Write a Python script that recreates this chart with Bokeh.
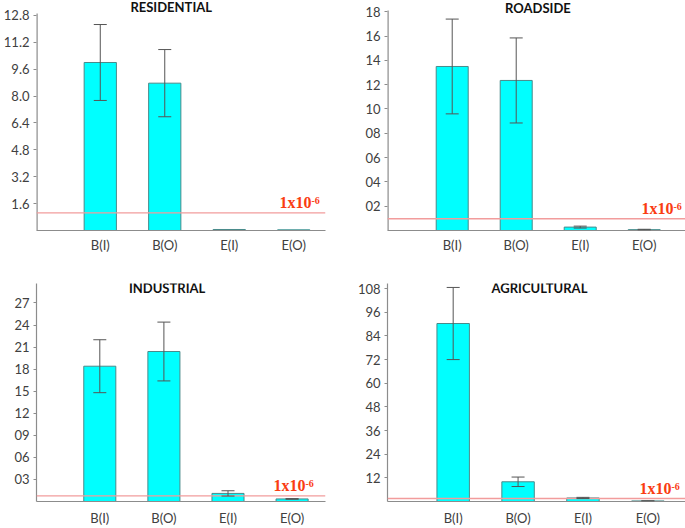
from bokeh.plotting import figure
from bokeh.models import (Range1d, FixedTicker, Span, Label, Whisker, TeeHead,
                          ColumnDataSource)
from bokeh.layouts import gridplot
from bokeh.embed import file_html
from bokeh.resources import INLINE

# ---------------- data ----------------
categories = ["B(I)", "B(O)", "E(I)", "E(O)"]

residential_values = [10.0, 8.77, 0.06, 0.04]
residential_errors = [2.26, 2.0, 0.0, 0.0]
residential_threshold = 1.05
residential_ticks = [1.6, 3.2, 4.8, 6.4, 8.0, 9.6, 11.2, 12.8]
residential_tick_labels = ["1.6", "3.2", "4.8", "6.4", "8.0", "9.6", "11.2", "12.8"]

roadside_values = [13.5, 12.35, 0.28, 0.07]
roadside_errors = [3.9, 3.5, 0.08, 0.03]
roadside_threshold = 0.97
roadside_ticks = [2, 4, 6, 8, 10, 12, 14, 16, 18]
roadside_tick_labels = ["02", "04", "06", "08", "10", "12", "14", "16", "18"]

industrial_values = [18.4, 20.4, 1.1, 0.35]
industrial_errors = [3.6, 4.0, 0.36, 0.05]
industrial_threshold = 0.77
industrial_ticks = [3, 6, 9, 12, 15, 18, 21, 24, 27]
industrial_tick_labels = ["03", "06", "09", "12", "15", "18", "21", "24", "27"]

agricultural_values = [90.3, 10.0, 1.8, 0.3]
agricultural_errors = [18.3, 2.4, 0.3, 0.05]
agricultural_threshold = 1.5
agricultural_ticks = [12, 24, 36, 48, 60, 72, 84, 96, 108]
agricultural_tick_labels = ["12", "24", "36", "48", "60", "72", "84", "96", "108"]

threshold_text = "1x10"
threshold_sup = "-6"

# ---------------- styling ----------------
BAR_FILL = "#00FFFF"
BAR_LINE = "#4a8a8a"
ERR_COLOR = "#555555"
AXIS_COLOR = "#8c8c8c"
TICK_TEXT = "#404040"
THRESH_LINE = "#f29c9c"
THRESH_TEXT = "#fa3c12"
FONT = "Lato"


def make_panel(title, values, errors, threshold, ticks, tick_labels, cfg):
    p = figure(width=cfg["width"], height=cfg["height"],
               x_range=Range1d(cfg["x0"], cfg["x1"]),
               y_range=Range1d(0, cfg["ymax"]),
               output_backend="svg", toolbar_location=None, tools="",
               min_border_left=cfg["bl"], min_border_right=cfg["br"],
               min_border_top=cfg["bt"], min_border_bottom=cfg["bb"])
    p.outline_line_color = None
    p.grid.visible = False
    p.background_fill_color = "white"

    # y axis line that stops a little above the top tick
    if "axis_top" in cfg:
        p.segment(x0=[cfg["x0"]], y0=[0], x1=[cfg["x0"]], y1=[cfg["axis_top"]],
                  line_color=AXIS_COLOR, line_width=2.4)

    xs = [i + 1 for i in range(len(categories))]
    src = ColumnDataSource(dict(x=xs, top=values, cat=categories))
    p.vbar(x="x", top="top", width=0.5, source=src,
           fill_color=BAR_FILL, line_color=BAR_LINE, line_width=1)

    ex, eu, el = [], [], []
    for x, v, e in zip(xs, values, errors):
        if e > 0:
            ex.append(x)
            eu.append(v + e)
            el.append(max(v - e, 0))
    if ex:
        esrc = ColumnDataSource(dict(x=ex, upper=eu, lower=el))
        w = Whisker(source=esrc, base="x", upper="upper", lower="lower",
                    line_color=ERR_COLOR, line_width=1, level="overlay",
                    upper_head=TeeHead(size=13, line_color=ERR_COLOR, line_width=1),
                    lower_head=TeeHead(size=13, line_color=ERR_COLOR, line_width=1))
        p.add_layout(w)

    p.add_layout(Span(location=threshold, dimension="width",
                      line_color=THRESH_LINE, line_width=1.4))

    # threshold label: "1x10" with a raised "-6"
    p.add_layout(Label(x=cfg["x1"], y=threshold, text=threshold_text,
                       text_align="right", text_baseline="bottom",
                       x_offset=cfg["lab"], y_offset=2,
                       text_font="Liberation Serif", text_font_style="bold",
                       text_font_size="16px", text_color=THRESH_TEXT))
    p.add_layout(Label(x=cfg["x1"], y=threshold, text=threshold_sup,
                       text_align="left", text_baseline="bottom",
                       x_offset=cfg["lab"], y_offset=9,
                       text_font="Liberation Serif", text_font_style="bold",
                       text_font_size="10px", text_color=THRESH_TEXT))

    # panel title
    p.add_layout(Label(x=cfg["tx"], y=cfg["ymax"], text=title,
                       text_align="center", text_baseline="middle", y_offset=cfg["ty"],
                       text_font=FONT, text_font_style="bold",
                       text_font_size="13px", text_color="#111111"))

    # axes
    p.xaxis.ticker = FixedTicker(ticks=xs)
    p.xaxis.major_label_overrides = {x: c for x, c in zip(xs, categories)}
    p.xaxis.major_tick_line_color = None
    p.xaxis.minor_tick_line_color = None
    p.xaxis.axis_line_color = AXIS_COLOR
    p.xaxis.axis_line_width = 1.2
    p.xaxis.major_label_text_font = FONT
    p.xaxis.major_label_text_font_size = "13px"
    p.xaxis.major_label_text_color = TICK_TEXT
    p.xaxis.major_label_standoff = cfg["xstand"]

    p.yaxis.ticker = FixedTicker(ticks=ticks)
    p.yaxis.major_label_overrides = {t: l for t, l in zip(ticks, tick_labels)}
    p.yaxis.minor_tick_line_color = None
    p.yaxis.major_tick_in = 0
    p.yaxis.major_tick_out = 3
    p.yaxis.major_tick_line_color = AXIS_COLOR
    p.yaxis.axis_line_color = None if "axis_top" in cfg else AXIS_COLOR
    p.yaxis.axis_line_width = 1.2
    p.yaxis.major_label_text_font = FONT
    p.yaxis.major_label_text_font_size = "13px"
    p.yaxis.major_label_text_color = TICK_TEXT
    p.yaxis.major_label_standoff = 4
    return p


p1 = make_panel("RESIDENTIAL", residential_values, residential_errors,
                residential_threshold, residential_ticks, residential_tick_labels,
                dict(width=342, height=260, bl=35, br=17, bt=0, bb=30,
                     x0=0.011, x1=4.493, ymax=13.69, axis_top=12.92,
                     tx=2.1, ty=-6, lab=-14, xstand=0))
p2 = make_panel("ROADSIDE", roadside_values, roadside_errors,
                roadside_threshold, roadside_ticks, roadside_tick_labels,
                dict(width=343, height=260, bl=45, br=0, bt=0, bb=30,
                     x0=-0.011, x1=4.645, ymax=18.93, axis_top=18.1,
                     tx=2.34, ty=-7, lab=-12, xstand=0))
p3 = make_panel("INDUSTRIAL", industrial_values, industrial_errors,
                industrial_threshold, industrial_ticks, industrial_tick_labels,
                dict(width=342, height=268, bl=36, br=17, bt=23, bb=26,
                     x0=0.0125, x1=4.521, ymax=29.65,
                     tx=2.05, ty=-4, lab=-20, xstand=2))
p4 = make_panel("AGRICULTURAL", agricultural_values, agricultural_errors,
                agricultural_threshold, agricultural_ticks, agricultural_tick_labels,
                dict(width=343, height=268, bl=45, br=0, bt=23, bb=26,
                     x0=-0.012, x1=4.58, ymax=110.6,
                     tx=2.33, ty=-4, lab=-14, xstand=2))

grid = gridplot([[p1, p2], [p3, p4]], toolbar_location=None)

open("out.html", "w").write(file_html(grid, INLINE))
